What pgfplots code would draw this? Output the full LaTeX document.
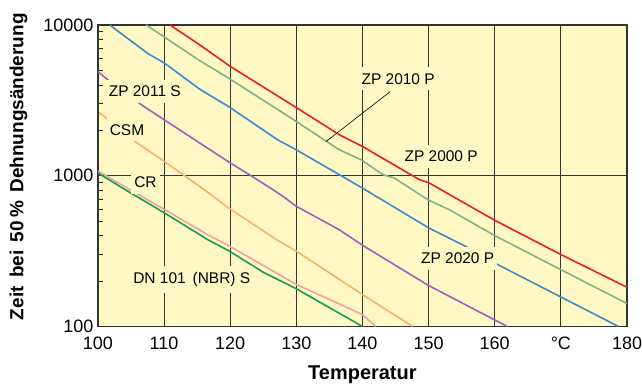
\documentclass[border=0pt]{standalone}
\usepackage{pgfplots}
\pgfplotsset{compat=1.18}
\usepackage{fontspec}
\setmainfont{Liberation Sans}
\definecolor{bgyellow}{RGB}{255,248,196}
\definecolor{cred}{RGB}{234,30,40}
\definecolor{cgreengray}{RGB}{128,176,140}
\definecolor{cblue}{RGB}{58,140,200}
\definecolor{cpurple}{RGB}{160,96,184}
\definecolor{corange}{RGB}{248,176,112}
\definecolor{cpink}{RGB}{240,160,168}
\definecolor{cgreen}{RGB}{16,160,80}
\definecolor{gridc}{RGB}{55,55,50}
\begin{document}
\begin{tikzpicture}
\useasboundingbox (-98pt,-58pt) rectangle (545pt,327pt);
\begin{axis}[
  at={(0,0)}, anchor=south west,
  width=530pt, height=302pt, scale only axis,
  xmin=100, xmax=180, ymode=log, ymin=100, ymax=10000,
  axis background/.style={fill=bgyellow},
  xtick={100,110,...,180},
  xticklabels={100,110,120,130,140,150,160,°C,180},
  ytick={100,1000,10000},
  yticklabels={100,1000,10000},
  minor ytick={200,300,400,500,600,700,800,900,2000,3000,4000,5000,6000,7000,8000,9000},
  ytick pos=left, xtick pos=bottom,
  tick align=inside,
  major tick style={draw=none},
  minor tick style={draw=black!85, line width=0.8pt},
  minor tick length=5.5pt,
  grid=major,
  minor grid style={draw=none},
  major grid style={draw=gridc, line width=0.8pt},
  axis line style={draw=black!80, line width=1.5pt},
  tick label style={font=\fontsize{18}{20}\selectfont},
  xticklabel style={yshift=-7pt},
  yticklabel style={xshift=-1pt},
  xlabel={Temperatur},
  ylabel={Zeit\, bei\, 50\,\%\, Dehnungsänderung},
  xlabel style={font=\bfseries\fontsize{20}{22}\selectfont, yshift=-9pt},
  ylabel style={font=\bfseries\fontsize{19}{21}\selectfont, yshift=9pt, xshift=9pt},
  every axis plot/.append style={line width=1.6pt, no markers},
]
% ZP 2000 P
\addplot[cred] coordinates {(110.9,10000) (115.4,7380) (119.9,5350) (130,2832) (136.5,1870) (140,1563) (148.6,942) (150,900) (160,506) (170,300) (180,182)};
% ZP 2010 P
\addplot[cgreengray] coordinates {(107.3,10000) (115.4,5800) (119.9,4400) (130,2290) (136.5,1486) (139.8,1276) (143.1,1015) (144.8,966) (149.9,693) (153.1,596) (160,401) (170,238) (180,142)};
% ZP 2020 P
\addplot[cblue] coordinates {(101.8,10000) (107.5,6490) (110.1,5570) (115.4,3750) (119.9,2850) (127.2,1729) (130,1486) (136.5,1016) (140,828) (150,451) (155.6,340) (160.7,254) (170,157) (178.7,100)};
% ZP 2011 S
\addplot[cpurple] coordinates {(100,4910) (101.8,4215) (106.8,2910) (115.4,1648) (119.9,1225) (122.9,1016) (126.5,807) (128,729) (130,627) (136.5,438) (140,346) (150,187) (161.9,100)};
% CSM
\addplot[corange] coordinates {(100.2,2625) (101.3,2410) (105.6,1686) (109.8,1266) (115.4,849) (119.9,606) (127,377) (130,316) (140,163) (147.6,100)};
% CR
\addplot[cpink] coordinates {(100,1075) (105,800) (110.1,596) (116.6,406) (119.9,341) (130,190) (140,120) (142,100)};
% DN 101 (NBR) S
\addplot[cgreen] coordinates {(100,1043) (105,767) (110.1,566) (116.6,377) (119.9,316) (125,229) (130,178) (140,100)};
% leader line
\draw[black, line width=0.6pt] (axis cs:144.2,3614) -- (axis cs:134.5,1686);
% labels
\tikzset{lbl/.style={fill=bgyellow, inner xsep=3pt, inner ysep=6pt, font=\fontsize{15.5}{17}\selectfont}}
\node[lbl] at (axis cs:107.1,3614) {ZP 2011 S};
\node[lbl] at (axis cs:104.4,2018) {CSM};
\node[lbl] at (axis cs:107.2,904) {CR};
\node[lbl] at (axis cs:114.2,205) {DN 101\, (NBR) S};
\node[lbl] at (axis cs:145.4,4388) {ZP 2010 P};
\node[lbl] at (axis cs:151.9,1343) {ZP 2000 P};
\node[lbl] at (axis cs:154.4,282) {ZP 2020 P};
\node[anchor=east, font=\fontsize{18}{20}\selectfont] at (axis cs:100,5715) {h};
\end{axis}
\end{tikzpicture}
\end{document}
